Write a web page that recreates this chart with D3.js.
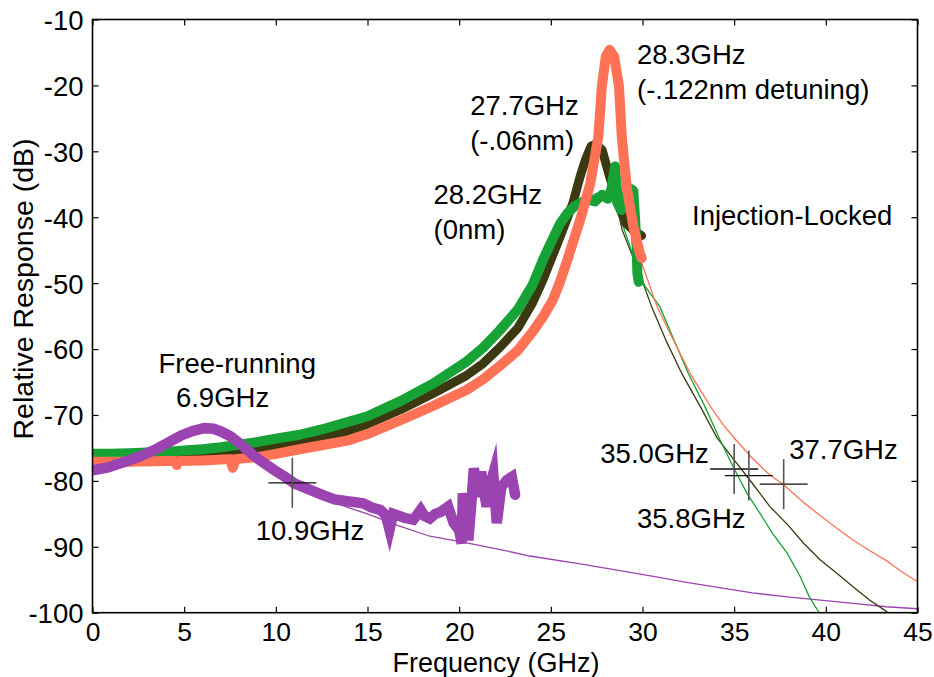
<!DOCTYPE html>
<html>
<head>
<meta charset="utf-8">
<script src="https://cdn.jsdelivr.net/npm/d3@7"></script>
<style>
  html, body { margin: 0; padding: 0; background: #fff; }
  svg { display: block; }
  text { font-family: "Liberation Sans", Arial, Helvetica, sans-serif; fill: #000; }
</style>
</head>
<body>
<svg id="chart" width="934" height="677"></svg>
<script>
// Axis ticks
const freqTicks = [0, 5, 10, 15, 20, 25, 30, 35, 40, 45];
const respTicks = [-100, -90, -80, -70, -60, -50, -40, -30, -20, -10];

// Measured responses, [frequency GHz, relative response dB]
const freeRunning = [
  [0,-78.4],[0.8,-78.0],[1.57,-77.3],[2.5,-76.4],[3.4,-75.3],[4.2,-74.1],[4.84,-73.1],[5.5,-72.4],
  [6.1,-72.0],[6.6,-72.1],[7.0,-72.5],[7.5,-73.2],[7.94,-74.1],[8.4,-75.2],[8.85,-76.3],[9.4,-77.4],
  [9.94,-78.4],[10.5,-79.4],[11.03,-80.4],[11.8,-81.3],[12.5,-82.1],[13.2,-82.8],[13.9,-83.1],
  [14.77,-83.4],[15.2,-84.0],[15.7,-84.4],[16.0,-85.2],[16.2,-87.4],[16.4,-85.0],[16.6,-85.2],
  [17.0,-85.6],[17.5,-85.9],[17.9,-84.4],[18.1,-85.3],[18.4,-85.7],[18.7,-85.0],[19.0,-84.7],
  [19.4,-83.9],[19.7,-86.4],[20.0,-87.5],[20.14,-89.5],[20.2,-81.9],[20.35,-84.0],[20.5,-89.0],
  [20.65,-84.0],[20.8,-78.1],[21.05,-82.4],[21.2,-78.6],[21.35,-81.5],[21.5,-83.9],[21.7,-80.5],
  [21.86,-78.9],[22.05,-86.4],[22.3,-80.9],[22.6,-79.9],[22.87,-79.4],[23.05,-82.1]
];
const locked0nm = [
  [0,-75.9],[1,-75.9],[2,-75.8],[3,-75.7],[4,-75.6],[5,-75.4],[6,-75.2],[7,-74.9],[8,-74.5],
  [9,-74.1],[10,-73.6],[11.3,-73.0],[12.5,-72.2],[13.5,-71.4],[15,-70.2],[16.8,-67.9],[18.6,-65.2],
  [20.4,-61.9],[21.3,-59.8],[22.2,-57.2],[23.2,-54.0],[24.0,-50.3],[24.6,-46.3],[25.1,-43.3],
  [25.5,-41.0],[25.9,-39.4],[26.3,-38.3],[26.7,-37.7],[27.0,-37.3],[27.4,-37.6],[27.8,-36.6],
  [28.1,-37.2],[28.3,-35.8],[28.5,-32.3],[28.65,-37.5],[28.85,-38.9],[29.05,-37.0],[29.3,-35.6],
  [29.5,-36.0],[29.6,-40.5],[29.68,-44.5],[29.72,-48.5],[29.8,-49.8]
];
const locked006nm = [
  [0,-76.3],[2,-76.3],[4,-76.2],[6,-76.0],[8,-75.6],[10,-74.9],[11.3,-74.3],[12.5,-73.6],
  [13.5,-72.8],[15,-71.4],[16.8,-69.2],[18.6,-66.7],[20.4,-64.0],[21.3,-62.2],[22.2,-59.8],
  [23.2,-56.8],[24.0,-53.0],[24.6,-49.3],[25.1,-45.8],[25.6,-42.3],[26.2,-37.9],[26.6,-33.8],
  [26.9,-31.2],[27.2,-29.2],[27.45,-28.9],[27.8,-29.8],[28.2,-33.8],[28.6,-37.2],[29.1,-40.9],
  [29.5,-42.0],[29.95,-42.8]
];
const locked0122nm = [
  [0,-77.1],[2,-77.1],[4,-77.0],[4.5,-77.0],[4.6,-77.6],[4.7,-77.0],[6,-76.9],[7.5,-76.7],
  [7.65,-78.0],[7.8,-76.7],[9,-76.4],
  [10,-75.9],[11.3,-75.2],[12.5,-74.6],[13.9,-73.9],[15,-72.9],[16.8,-70.8],[18.6,-68.6],
  [20.4,-66.2],[21.3,-64.6],[22.2,-62.6],[23.2,-60.2],[24.0,-57.4],[24.6,-55.0],[25.1,-52.6],
  [25.5,-49.8],[25.9,-46.5],[26.3,-43.0],[26.6,-40.4],[27.14,-35.0],[27.59,-27.8],[27.78,-20.2],
  [28.0,-15.6],[28.2,-14.6],[28.45,-15.6],[28.72,-20.2],[28.87,-27.8],[29.14,-35.4],[29.5,-41.4],
  [29.86,-45.5],[29.96,-46.2]
];

// Fitted response curves
const freeRunningFit = [
  [0,-77.6],[1.5,-76.6],[3,-75.2],[4.5,-73.5],[5.5,-72.6],[6.5,-72.3],[7.5,-73.4],[8.5,-75.6],
  [9.5,-77.9],[10.9,-80.3],[12,-81.9],[13,-83.1],[14,-84.1],[15,-85.0],[16.6,-86.7],[18.4,-88.4],
  [20.2,-89.3],[22.05,-90.3],[23.86,-91.4],[26.6,-92.6],[28.77,-93.6],[30.6,-94.5],[32.4,-95.4],
  [34.2,-96.2],[36.0,-97.0],[37.9,-97.6],[39.7,-98.1],[41.5,-98.6],[43.3,-99.1],[45,-99.4]
];
const fit0nm = [
  [24.5,-46],[25.5,-41],[26.5,-37.6],[27.5,-36.4],[28.3,-37.4],[28.9,-41],[29.5,-46],[30.1,-50.3],
  [30.95,-53.6],[31.7,-58.5],[32.5,-63.7],[33.4,-68.7],[34.2,-73.6],[34.95,-77.9],[35.7,-81.9],
  [36.4,-84.9],[37.1,-88.0],[37.9,-91.0],[38.6,-94.5],[39.1,-97.6],[39.7,-100.3],[40,-101.5]
];
const fit006nm = [
  [25.5,-43.5],[26.3,-36],[26.9,-31],[27.4,-29.5],[27.9,-31.2],[28.4,-36],[28.9,-42],[29.4,-45.5],
  [29.9,-49],[30.5,-53.6],[31.3,-58.8],[32.14,-63.7],[33.15,-68.7],[34.05,-73.4],[35.1,-77.2],
  [36.0,-80.4],[36.95,-83.9],[37.9,-86.6],[38.8,-89.5],[39.7,-92.0],[40.6,-94.0],[41.5,-96.1],
  [42.4,-98.1],[43.3,-99.8],[43.6,-100.5]
];
const fit0122nm = [
  [27.4,-30],[27.9,-19],[28.2,-14.8],[28.5,-17],[28.9,-27],[29.3,-38.5],[29.9,-46.5],[30.8,-53.6],
  [31.5,-57.6],[32.6,-63.7],[33.7,-68.7],[34.4,-71.5],[35.1,-73.8],[36.0,-76.6],[36.9,-79.0],
  [37.7,-80.6],[38.8,-83.3],[39.7,-85.3],[40.6,-87.2],[41.5,-89.0],[42.4,-90.6],[43.3,-92.1],
  [44.1,-93.7],[45,-95.3]
];

// -3 dB bandwidth markers
const markers = [[10.9,-80.3],[35.0,-78.2],[35.8,-79.2],[37.7,-80.5]];

// Annotation text: [label, frequency, dB] anchor at the text's left baseline
const annotations = [
  ["28.3GHz", 29.7, -16.75],
  ["(-.122nm detuning)", 29.7, -22.06],
  ["27.7GHz", 20.6, -24.5],
  ["(-.06nm)", 20.6, -29.8],
  ["28.2GHz", 18.6, -38.0],
  ["(0nm)", 18.6, -43.3],
  ["Injection-Locked", 32.7, -41.2],
  ["Free-running", 3.6, -63.6],
  ["6.9GHz", 4.55, -68.8],
  ["10.9GHz", 8.9, -88.97],
  ["35.0GHz", 27.7, -77.3],
  ["37.7GHz", 38.0, -76.7],
  ["35.8GHz", 29.7, -87.1]
];

const plotLeft = 92.5, plotRight = 917.5, plotTop = 19.5, plotBottom = 612.7;

const svg = d3.select("#chart");
const x = d3.scaleLinear().domain([0, 45]).range([plotLeft, plotRight]);
const y = d3.scaleLinear().domain([-100, -10]).range([plotBottom, plotTop]);

svg.append("defs").append("clipPath").attr("id", "plot-clip")
  .append("rect").attr("x", plotLeft).attr("y", plotTop)
  .attr("width", plotRight - plotLeft).attr("height", plotBottom - plotTop);

const line = d3.line().x(d => x(d[0])).y(d => y(d[1]));
const plot = svg.append("g").attr("clip-path", "url(#plot-clip)");

const colors = {
  purple: "#9a43b1",
  green: "#16a234",
  dark: "#3b3912",
  coral: "#ff7256"
};

// Thin fitted curves underneath
function thin(data, color) {
  plot.append("path").datum(data).attr("d", line)
    .attr("fill", "none").attr("stroke", color).attr("stroke-width", 1.3);
}
thin(freeRunningFit, colors.purple);
thin(fit006nm, colors.dark);
thin(fit0nm, colors.green);
thin(fit0122nm, colors.coral);

// Thick measured traces
function thick(data, color, w, join) {
  plot.append("path").datum(data).attr("d", line)
    .attr("fill", "none").attr("stroke", color).attr("stroke-width", w)
    .attr("stroke-linejoin", join).attr("stroke-linecap", "round")
    .attr("stroke-miterlimit", 6);
}
thick(locked006nm, colors.dark, 9, "round");
thick(locked0nm, colors.green, 10, "round");
thick(locked0122nm, colors.coral, 10, "round");
thick(freeRunning, colors.purple, 10.5, "miter");

// Crosshair markers
const mk = svg.append("g");
markers.forEach(m => {
  const cx = x(m[0]), cy = y(m[1]);
  mk.append("line").attr("x1", cx - 24).attr("x2", cx + 24).attr("y1", cy).attr("y2", cy)
    .attr("stroke", "#111").attr("stroke-width", 1.4);
  mk.append("line").attr("x1", cx).attr("x2", cx).attr("y1", cy - 25).attr("y2", cy + 25)
    .attr("stroke", "#555").attr("stroke-width", 1.6);
});

// Frame and ticks on all four sides
const axisG = svg.append("g");
axisG.append("rect").attr("x", plotLeft).attr("y", plotTop)
  .attr("width", plotRight - plotLeft).attr("height", plotBottom - plotTop)
  .attr("fill", "none").attr("stroke", "#000").attr("stroke-width", 1.6);

const fmt = d => String(d);
const xAxisB = d3.axisBottom(x).tickValues(freqTicks).tickSize(-6).tickFormat(fmt);
const xAxisT = d3.axisTop(x).tickValues(freqTicks).tickSize(-6).tickFormat("");
const yAxisL = d3.axisLeft(y).tickValues(respTicks).tickSize(-6).tickFormat(fmt);
const yAxisR = d3.axisRight(y).tickValues(respTicks).tickSize(-6).tickFormat("");

function styleAxis(g, size) {
  g.select(".domain").remove();
  g.selectAll(".tick line").attr("stroke", "#000").attr("stroke-width", 1.2);
  g.selectAll(".tick text").attr("font-size", size)
    .attr("font-family", "'Liberation Sans', Arial, sans-serif").attr("fill", "#000");
}
axisG.append("g").attr("transform", `translate(0,${plotBottom})`).call(xAxisB).call(styleAxis, 26.5)
  .selectAll(".tick text").attr("y", 9).attr("dy", "0.71em");
axisG.append("g").attr("transform", `translate(0,${plotTop})`).call(xAxisT).call(styleAxis, 26.5);
axisG.append("g").attr("transform", `translate(${plotLeft},0)`).call(yAxisL).call(styleAxis, 27.5)
  .selectAll(".tick text").attr("x", -9).attr("dy", "0.36em");
axisG.append("g").attr("transform", `translate(${plotRight},0)`).call(yAxisR).call(styleAxis, 27.5);

// Axis titles
svg.append("text").attr("x", 496).attr("y", 672).attr("text-anchor", "middle")
  .attr("font-size", 27).text("Frequency (GHz)");
svg.append("text").attr("transform", "translate(33,289) rotate(-90)")
  .attr("text-anchor", "middle").attr("font-size", 28.5).text("Relative Response (dB)");

// Annotations
svg.append("g").selectAll("text").data(annotations).join("text")
  .attr("x", d => x(d[1])).attr("y", d => y(d[2]))
  .attr("font-size", 27.5).text(d => d[0]);
</script>
</body>
</html>
